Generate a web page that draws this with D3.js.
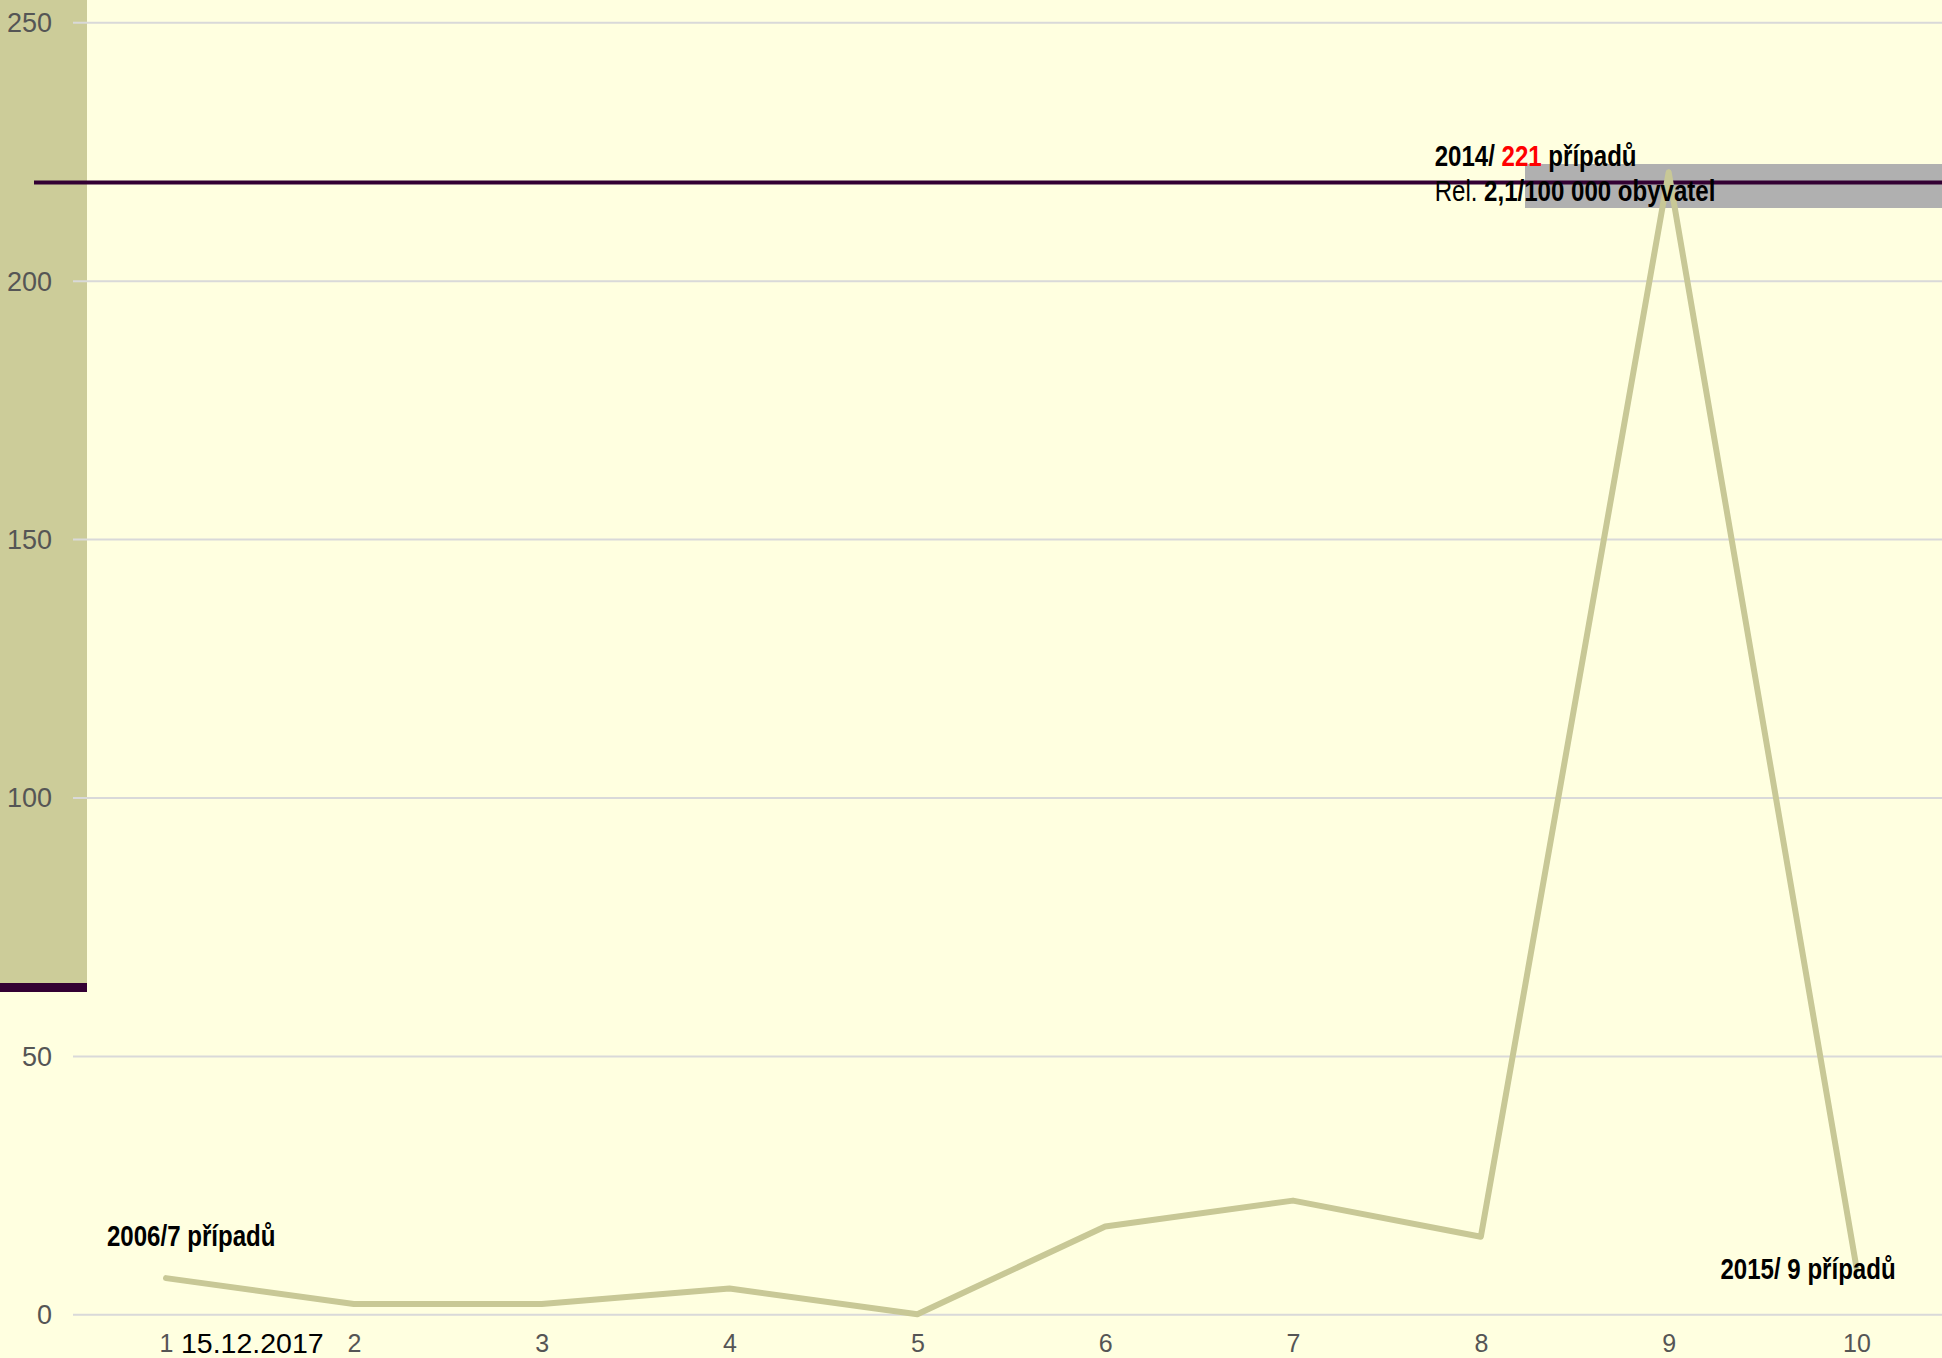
<!DOCTYPE html>
<html>
<head>
<meta charset="utf-8">
<script src="https://cdn.jsdelivr.net/npm/d3@7"></script>
<style>
  html, body { margin: 0; padding: 0; background: #ffffe0; }
  svg { display: block; }
  .tick text { font-family: Arial, "Liberation Sans", sans-serif; fill: #555; }
  .note { font-family: "Liberation Sans Narrow", "Arial Narrow", "Liberation Sans", sans-serif; font-size: 29px; fill: #000; }
</style>
</head>
<body>
<script>
    // data
    var years = [1, 2, 3, 4, 5, 6, 7, 8, 9, 10];
    var cases = [7, 2, 2, 5, 0, 17, 22, 15, 221, 9];
    var yTicks = [0, 50, 100, 150, 200, 250];
    var refLine = 219;
    var dateLabel = "15.12.2017";

    var WIDTH = 1942, HEIGHT = 1358;
    var NARROW = 0.83; // no narrow font installed, squeeze by hand

    var svg = d3.select("body").append("svg")
        .attr("width", WIDTH)
        .attr("height", HEIGHT);

    svg.append("rect").attr("width", WIDTH).attr("height", HEIGHT).attr("fill", "#ffffe0");

    var xScale = d3.scaleLinear().domain([1, 10]).range([166, 1856.5]);
    var yScale = d3.scaleLinear().domain([0, 250]).range([1314.3, 22.3]);

    // left band
    svg.append("rect")
        .attr("x", 0).attr("y", 0)
        .attr("width", 87).attr("height", 984)
        .attr("fill", "#cccc99");
    svg.append("rect")
        .attr("x", 0).attr("y", 983)
        .attr("width", 87).attr("height", 9)
        .attr("fill", "#330033");

    // grid + y labels
    var yAxis = d3.axisLeft(yScale)
        .tickValues(yTicks)
        .tickSize(-(WIDTH - 73))
        .tickPadding(21);
    svg.append("g")
        .attr("class", "y axis")
        .attr("transform", "translate(73,0)")
        .call(yAxis)
        .call(function(g){
            g.select(".domain").remove();
            g.selectAll(".tick line").attr("stroke", "#d9d9d9").attr("stroke-width", 2);
            g.selectAll(".tick text").style("font-size", "27px").attr("dy", "0.35em");
        });

    // x labels
    var xAxis = d3.axisBottom(xScale)
        .tickValues(years)
        .tickFormat(d3.format("d"))
        .tickSize(0)
        .tickPadding(0);
    svg.append("g")
        .attr("class", "x axis")
        .attr("transform", "translate(0,1352)")
        .call(xAxis)
        .call(function(g){
            g.select(".domain").remove();
            g.selectAll(".tick text").style("font-size", "25px").attr("y", 0).attr("dy", 0);
        });

    svg.append("text")
        .attr("x", xScale(1) + 15)
        .attr("y", 1353)
        .style("font-family", "Arial, 'Liberation Sans', sans-serif")
        .style("font-size", "28.5px")
        .attr("fill", "#000")
        .text(dateLabel);

    // grey box behind the peak
    svg.append("rect")
        .attr("x", 1525).attr("y", 164)
        .attr("width", WIDTH - 1525).attr("height", 44)
        .attr("fill", "#b0b0b0");

    // reference line
    svg.append("line")
        .attr("x1", 34).attr("x2", WIDTH)
        .attr("y1", yScale(refLine)).attr("y2", yScale(refLine))
        .attr("stroke", "#330033")
        .attr("stroke-width", 4);

    // series
    var line = d3.line()
        .x(function(d, i){ return xScale(years[i]); })
        .y(function(d){ return yScale(d); });
    svg.append("path")
        .datum(cases)
        .attr("d", line)
        .attr("fill", "none")
        .attr("stroke", "#c8c896")
        .attr("stroke-width", 6)
        .attr("stroke-linejoin", "round")
        .attr("stroke-linecap", "round");

    // notes
    function note(x, y){
        return svg.append("text").attr("class", "note")
            .attr("transform", "translate(" + x + "," + y + ") scale(" + NARROW + ",1)");
    }

    note(xScale(1) - 59, yScale(cases[0]) - 32)
        .append("tspan").attr("font-weight", "bold").text("2006/" + cases[0] + " případů");

    var n2 = note(xScale(9) - 234, 166);
    n2.append("tspan").attr("font-weight", "bold").text("2014/ ");
    n2.append("tspan").attr("font-weight", "bold").attr("fill", "#ff0000").text(cases[8]);
    n2.append("tspan").attr("font-weight", "bold").text(" případů");

    var n3 = note(xScale(9) - 234, 201);
    n3.append("tspan").text("Rel. ");
    n3.append("tspan").attr("font-weight", "bold").text("2,1/100 000 obyvatel");

    note(xScale(10) - 136, 1279)
        .append("tspan").attr("font-weight", "bold").text("2015/ " + cases[9] + " případů");
</script>
</body>
</html>
